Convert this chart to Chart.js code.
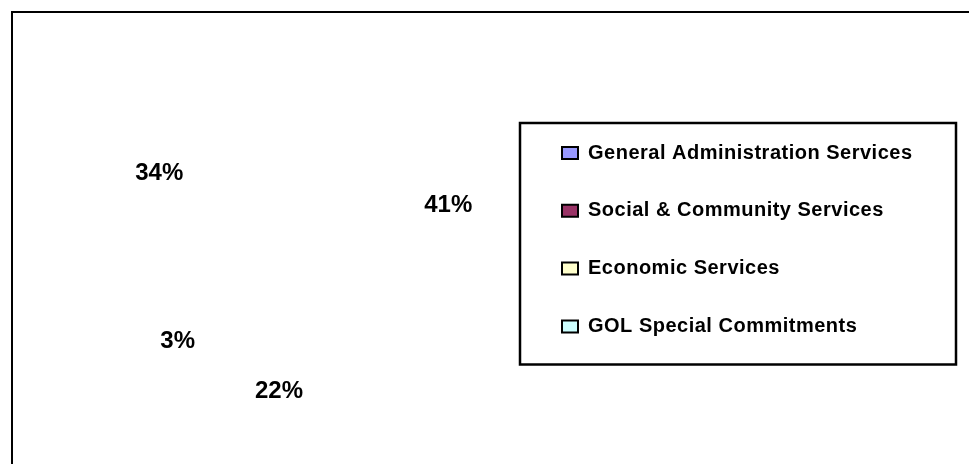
<!DOCTYPE html>
<html>
<head>
<meta charset="utf-8">
<script src="https://cdn.jsdelivr.net/npm/chart.js@4.4.1/dist/chart.umd.min.js"></script>
<style>
html,body{margin:0;padding:0;background:#fff;overflow:hidden}
#wrap{position:absolute;left:0;top:0;width:969px;height:464px}
</style>
</head>
<body>
<div id="wrap"><canvas id="c" width="969" height="464"></canvas></div>
<script>
// ---- data ----
const categories = ['General Administration Services', 'Social & Community Services', 'Economic Services', 'GOL Special Commitments'];
const shares = [41, 22, 3, 34];
const legendColors = ['#9999FF', '#993366', '#FFFFCC', '#CCFFFF'];
const sliceColors = ['rgba(255,255,255,0)', 'rgba(255,255,255,0)', 'rgba(255,255,255,0)', 'rgba(255,255,255,0)'];

const FONT = "'Liberation Sans', Arial, Helvetica, sans-serif";
const LEGEND_PAD = 37.8;

const framePlugin = {
  id: 'frameAndLabels',
  afterLayout(chart) {
    const ca = chart.chartArea;
    ca.left = 165; ca.right = 429; ca.top = 115; ca.bottom = 379;
    ca.width = ca.right - ca.left; ca.height = ca.bottom - ca.top;
    const lg = chart.legend;
    lg.left = 562 - LEGEND_PAD; lg.top = 153 - 10 - LEGEND_PAD; lg.right = 965; lg.bottom = 460;
    lg.width = lg.right - lg.left; lg.height = lg.bottom - lg.top;
  },
  beforeDraw(chart) {
    const ctx = chart.ctx;
    ctx.save();
    ctx.fillStyle = '#fff';
    ctx.fillRect(0, 0, chart.width, chart.height);
    ctx.strokeStyle = '#000';
    ctx.lineWidth = 2;
    ctx.strokeRect(12, 12, chart.width + 40, chart.height + 40);
    ctx.lineWidth = 2.5;
    ctx.strokeRect(520, 123, 436, 241.5);
    ctx.restore();
    ctx.letterSpacing = '0.5px';
  },
  beforeDatasetsDraw(chart) {
    chart.ctx.letterSpacing = '0px';
  },
  afterDraw(chart) {
    const ctx = chart.ctx;
    const meta = chart.getDatasetMeta(0);
    ctx.save();
    ctx.letterSpacing = '0px';
    const size = 24;
    ctx.font = 'bold ' + size + 'px ' + FONT;
    ctx.fillStyle = '#000';
    ctx.textAlign = 'center';
    ctx.textBaseline = 'alphabetic';
    const hh = size * 0.716 / 2;
    meta.data.forEach((arc, i) => {
      const p = arc.getProps(['x', 'y', 'startAngle', 'endAngle', 'outerRadius'], true);
      const mid = (p.startAngle + p.endAngle) / 2;
      const dx = Math.cos(mid), dy = Math.sin(mid);
      const text = chart.data.datasets[0].data[i] + '%';
      const hw = ctx.measureText(text).width / 2;
      const d = p.outerRadius + Math.abs(dx) * hw + Math.abs(dy) * hh;
      ctx.fillText(text, p.x + dx * d, p.y + dy * d + hh);
    });
    ctx.restore();
  }
};

new Chart(document.getElementById('c'), {
  type: 'pie',
  data: {
    labels: categories,
    datasets: [{
      data: shares,
      backgroundColor: sliceColors,
      borderWidth: 0,
      hoverOffset: 0
    }]
  },
  options: {
    responsive: false,
    animation: false,
    events: [],
    plugins: {
      tooltip: { enabled: false },
      legend: {
        position: 'right',
        align: 'start',
        labels: {
          boxWidth: 16,
          boxHeight: 12,
          padding: LEGEND_PAD,
          color: '#000',
          font: { family: FONT, size: 20, weight: 'bold' },
          generateLabels(chart) {
            return chart.data.labels.map((t, i) => ({
              text: t,
              fillStyle: legendColors[i],
              strokeStyle: '#000',
              lineWidth: 2,
              fontColor: '#000',
              hidden: false,
              index: i
            }));
          }
        }
      }
    }
  },
  plugins: [framePlugin]
});
</script>
</body>
</html>
